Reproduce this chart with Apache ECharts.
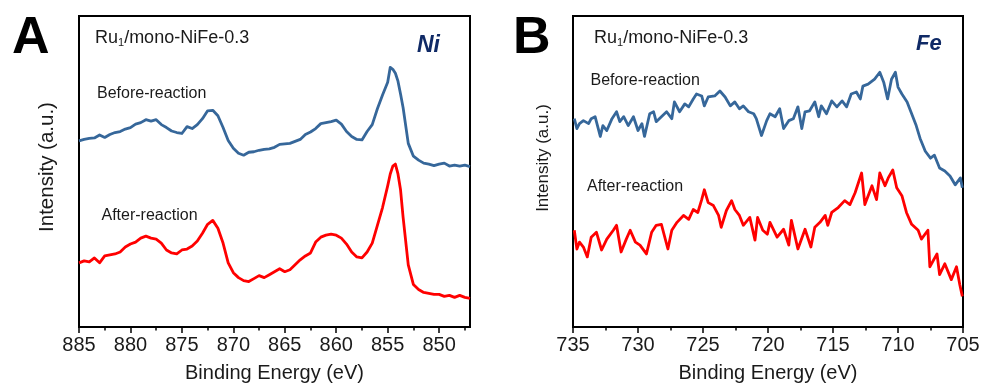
<!DOCTYPE html>
<html><head><meta charset="utf-8">
<script src="https://cdn.jsdelivr.net/npm/echarts@6/dist/echarts.min.js"></script>
<style>html,body{margin:0;padding:0;background:#fff}#c{width:983px;height:388px}</style>
</head><body><div id="c"></div>
<script>
// ---- Data ----
const niEnergy = [885,884.5,884,883.5,883,882.5,882,881.5,881,880.5,880,879.5,879,878.5,878,877.5,877,876.5,876,875.5,875,874.5,874,873.5,873,872.5,872,871.5,871,870.5,870,869.5,869,868.5,868,867.5,867,866.5,866,865.5,865,864.5,864,863.5,863,862.5,862,861.5,861,860.5,860,859.5,859,858.5,858,857.5,857,856.5,856,855.5,855,854.75,854.5,854.25,854,853.75,853.5,853,852.5,852,851.5,851,850.5,850,849.5,849,848.5,848,847.5,847];
const niBefore = [188.5,190,191,191.5,194.5,192,195,197,198,200.5,202,205.5,207,210,208.5,210,205,202,198.5,197,196,203,201,205,211,219,219.5,214,202,189,181,176,174,177,177.5,179,180,180.5,182,185,185.5,186,188,190,195,197.5,201,206,207,208,209.5,205.5,198,193,190,189.5,198,205,221,235,248,263,261,257,249,236,222,186,173,169,166,165,163.5,165,166,163,164,163,164,162.5];
const niAfter = [65,67,66,70,65,72,73,74,76,81,84,86,90,92,90,89,85,78,75,74,78,79,82,87,95,104,108,100,85,65,55,50,47,46,49,52,50,53,56,59,56,58,63,68,72,75,86,91,93,94,93,90,84,76,71,70,76,85,103,121,143,155,163,165,155,139,111,63,43,38,35,34,33,33,31,32,30,32,30,29];
const feBefore = [[734.9,211],[734.7,201],[734.5,206],[734.2,209],[733.8,206],[733.6,211],[733.3,213],[732.9,193],[732.7,204],[732.4,199],[732.0,211],[731.65,218],[731.4,208],[731.1,213],[730.75,204],[730.35,213],[730.0,199],[729.7,206],[729.5,193],[729.1,216],[728.8,218],[728.6,208],[728.2,213],[727.8,218],[727.4,211],[727.2,228],[726.8,218],[726.4,226],[726.1,223],[725.75,231],[725.5,236],[725.1,234],[724.9,224],[724.6,233],[724.1,234],[723.7,239],[723.3,233],[722.9,224],[722.55,228],[722.2,221],[721.9,224],[721.5,218],[721.1,216],[720.9,211],[720.5,194],[720.1,209],[719.85,216],[719.45,213],[719.1,221],[718.8,201],[718.4,209],[718.05,211],[717.7,223],[717.4,201],[717.15,218],[716.8,219],[716.4,228],[716.1,213],[715.9,224],[715.5,216],[715.1,229],[714.7,223],[714.3,229],[713.95,223],[713.6,236],[713.2,238],[712.9,231],[712.7,244],[712.3,246],[711.8,251],[711.4,258],[711.1,248],[710.8,231],[710.5,251],[710.2,258],[710.0,243],[709.7,236],[709.3,228],[708.95,216],[708.6,204],[708.3,191],[707.9,178],[707.5,171],[707.2,174],[706.8,161],[706.4,158],[706.0,153],[705.6,144],[705.2,151],[705.05,141]];
const feAfter = [[734.9,98],[734.7,79],[734.5,86],[734.2,81],[733.9,71],[733.6,91],[733.2,96],[732.8,78],[732.4,89],[731.9,98],[731.65,103],[731.3,76],[730.9,89],[730.6,98],[730.2,86],[729.85,83],[729.35,74],[728.95,96],[728.6,103],[728.2,104],[727.7,79],[727.4,98],[727.0,106],[726.5,113],[726.1,109],[725.75,119],[725.4,116],[725.1,129],[724.9,139],[724.6,126],[724.2,123],[723.8,113],[723.6,101],[723.2,118],[722.8,128],[722.55,119],[722.2,113],[721.9,103],[721.4,111],[721.0,88],[720.8,111],[720.4,98],[720.05,94],[719.85,106],[719.3,91],[718.8,99],[718.4,83],[718.2,108],[717.7,79],[717.15,99],[716.7,81],[716.4,101],[716.0,106],[715.6,113],[715.4,103],[715.1,116],[714.6,121],[714.1,128],[713.7,124],[713.3,136],[712.8,156],[712.55,124],[712.0,143],[711.65,129],[711.4,156],[711.0,143],[710.75,151],[710.4,159],[710.1,141],[709.7,133],[709.35,116],[708.95,104],[708.45,98],[708.2,89],[707.7,98],[707.55,61],[707.0,74],[706.8,53],[706.4,64],[705.9,48],[705.5,61],[705.25,43],[705.05,31]];
const niMajorTicks = [850,855,860,865,870,875,880,885];
const niMinorTicks = [847.5,852.5,857.5,862.5,867.5,872.5,877.5,882.5];
const feMajorTicks = [705,710,715,720,725,730,735];
const feMinorTicks = [707.5,712.5,717.5,722.5,727.5,732.5];
const panelLetters = ['A','B'];
const elementNames = ['Ni','Fe'];
const sampleName = 'Ru{s|1}/mono-NiFe-0.3';
const stateNames = ['Before-reaction','After-reaction'];
const xTitle = 'Binding Energy (eV)';
const yTitle = 'Intensity (a.u.)';

// ---- Styling / layout ----
const FONT = '"Liberation Sans", Arial, sans-serif';
const BLUE = '#36679a', RED = '#ff0000', TXT = '#1a1a1a', NAVY = '#102a66';

function xAxes(gridIndex, min, max, major, minor) {
  return [
    { type:'value', gridIndex, min, max, inverse:true, position:'bottom',
      axisLine:{show:true, onZero:false, lineStyle:{color:'#000', width:2}},
      axisTick:{show:true, customValues:major, length:6, lineStyle:{color:'#000', width:1.5}},
      axisLabel:{show:true, customValues:major, margin:8, fontSize:20, color:TXT, fontFamily:FONT},
      splitLine:{show:false},
      name:xTitle, nameLocation:'middle', nameGap:36,
      nameTextStyle:{fontSize:20, color:TXT, fontFamily:FONT} },
    { type:'value', gridIndex, min, max, inverse:true, position:'bottom',
      axisLine:{show:false, onZero:false},
      axisTick:{show:true, customValues:minor, length:3.5, lineStyle:{color:'#000', width:1.5}},
      axisLabel:{show:false}, splitLine:{show:false} }
  ];
}
function yAxis(gridIndex) {
  return { type:'value', gridIndex, min:0, max:315, show:true,
    axisLine:{show:false}, axisTick:{show:false}, axisLabel:{show:false}, splitLine:{show:false} };
}
function txt(x, y, text, size, extra) {
  return Object.assign({ type:'text', x, y, silent:true,
    style:Object.assign({ text, fontSize:size, fontFamily:FONT, fill:TXT, align:'left', verticalAlign:'middle' }, extra || {}) });
}
function line(xi, yi, data, color) {
  return { type:'line', xAxisIndex:xi, yAxisIndex:yi, data, showSymbol:false, symbol:'none',
    lineStyle:{color, width:2.8, join:'round'}, itemStyle:{color}, animation:false, z:3 };
}

const chart = echarts.init(document.getElementById('c'), null, {renderer:'canvas'});
chart.setOption({
  animation:false,
  backgroundColor:'#fff',
  grid:[
    {left:79, top:16, width:391, height:315, show:true, borderColor:'#000', borderWidth:2, backgroundColor:'transparent'},
    {left:573, top:16, width:390, height:315, show:true, borderColor:'#000', borderWidth:2, backgroundColor:'transparent'}
  ],
  xAxis:[].concat(xAxes(0, 847, 885, niMajorTicks, niMinorTicks), xAxes(1, 705, 735, feMajorTicks, feMinorTicks)),
  yAxis:[yAxis(0), yAxis(1)],
  series:[
    line(0, 0, niEnergy.map((e,i)=>[e, niBefore[i]]), BLUE),
    line(0, 0, niEnergy.map((e,i)=>[e, niAfter[i]]), RED),
    line(2, 1, feBefore, BLUE),
    line(2, 1, feAfter, RED)
  ],
  graphic:[
    txt(12, 38.5, panelLetters[0], 52, {fontWeight:'bold', fill:'#000'}),
    txt(513, 38.5, panelLetters[1], 52, {fontWeight:'bold', fill:'#000'}),
    txt(95, 38, sampleName, 18, {rich:{s:{fontSize:11, fontFamily:FONT, fill:TXT, padding:[9,0,0,0]}}}),
    txt(594, 38, sampleName, 18, {rich:{s:{fontSize:11, fontFamily:FONT, fill:TXT, padding:[9,0,0,0]}}}),
    txt(417, 45.5, elementNames[0], 23, {fontWeight:'bold', fontStyle:'italic', fill:NAVY}),
    txt(916, 44, elementNames[1], 22, {fontWeight:'bold', fontStyle:'italic', fill:NAVY}),
    txt(97, 94, stateNames[0], 16),
    txt(101.5, 216, stateNames[1], 16),
    txt(590.5, 80.5, stateNames[0], 16),
    txt(587, 187, stateNames[1], 16),
    Object.assign(txt(47, 167, yTitle, 20.5, {align:'center'}), {rotation:Math.PI/2}),
    Object.assign(txt(543, 158, yTitle, 17, {align:'center'}), {rotation:Math.PI/2})
  ]
});
</script></body></html>
